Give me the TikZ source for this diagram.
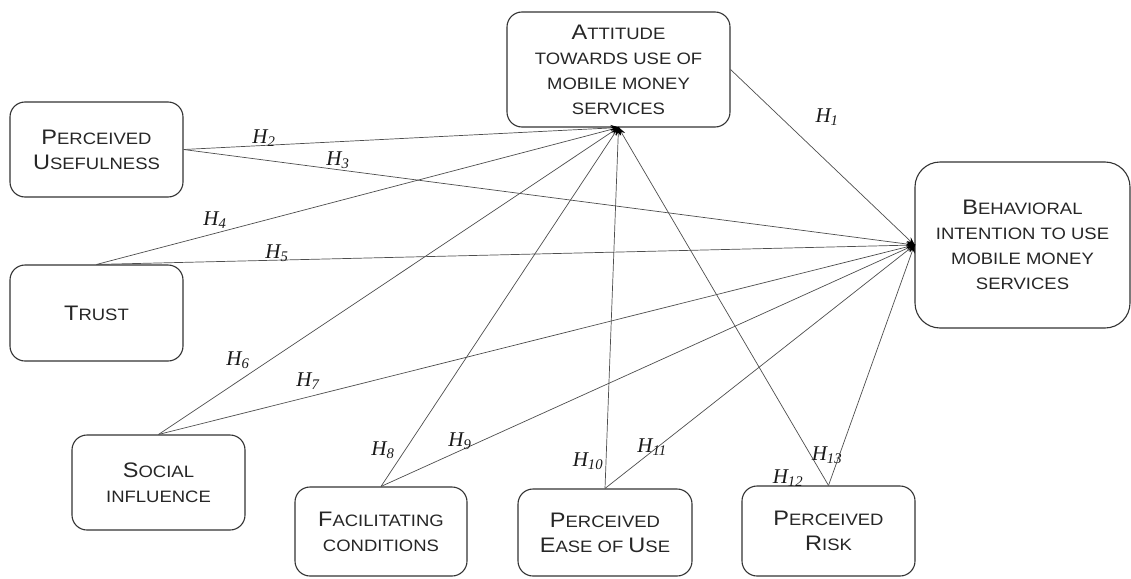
\documentclass[tikz,border=0pt]{standalone}
\usepackage{fontspec}
\setmainfont[FakeStretch=1.12]{Liberation Sans}
\newfontfamily\hfont{Liberation Serif}
\usetikzlibrary{arrows.meta}
\definecolor{boxline}{HTML}{333333}
\definecolor{conn}{HTML}{4d4d4d}
\newcommand\bc[1]{{\fontsize{21}{25}\selectfont #1}}
\newcommand\hl[1]{{\hfont\itshape H\textsubscript{#1}}}
\tikzset{
  box/.style={draw=boxline, line width=1.1pt, rounded corners=15pt, inner sep=0pt,
    align=center, text=black!85, font=\fontsize{16.5}{25}\selectfont},
  link/.style={draw=conn, line width=0.7pt, -{Stealth[length=9pt,width=6pt,black]}, shorten >=-1pt},
  hlab/.style={inner sep=0pt, font=\fontsize{21}{24}\selectfont, text=black!90}
}
\begin{document}
\begin{tikzpicture}[x=1pt,y=-1pt]
\useasboundingbox (0,0) rectangle (1131,578);
% boxes
\node[box, minimum width=223pt, minimum height=115pt] (att) at (618.5,69.5)
  {\bc{A}TTITUDE\\TOWARDS USE OF\\MOBILE MONEY\\SERVICES};
\node[box, minimum width=173pt, minimum height=95pt] (pu) at (96.5,149.5)
  {\bc{P}ERCEIVED\\\bc{U}SEFULNESS};
\node[box, minimum width=173pt, minimum height=96pt] (tr) at (96.5,313)
  {\bc{T}RUST};
\node[box, rounded corners=25pt, minimum width=215pt, minimum height=166pt] (bi) at (1022.5,245)
  {\bc{B}EHAVIORAL\\INTENTION TO USE\\MOBILE MONEY\\SERVICES};
\node[box, minimum width=173pt, minimum height=95pt] (si) at (158.5,482.5)
  {\bc{S}OCIAL\\INFLUENCE};
\node[box, minimum width=172pt, minimum height=89pt] (fc) at (381,531.5)
  {\bc{F}ACILITATING\\CONDITIONS};
\node[box, minimum width=174pt, minimum height=87pt] (peou) at (605,532.5)
  {\bc{P}ERCEIVED\\\bc{E}ASE OF \bc{U}SE};
\node[box, minimum width=173pt, minimum height=90pt] (pr) at (828.5,531)
  {\bc{P}ERCEIVED\\\bc{R}ISK};
% connectors to attitude
\draw[link] (pu.east) -- (att.south);
\draw[link] (tr.north) -- (att.south);
\draw[link] (si.north) -- (att.south);
\draw[link] (fc.north) -- (att.south);
\draw[link] (peou.north) -- (att.south);
\draw[link] (pr.north) -- (att.south);
% connectors to behavioral intention
\draw[link] (att.east) -- (bi.west);
\draw[link] (pu.east) -- (bi.west);
\draw[link] (tr.north) -- (bi.west);
\draw[link] (si.north) -- (bi.west);
\draw[link] (fc.north) -- (bi.west);
\draw[link] (peou.north) -- (bi.west);
\draw[link] (pr.north) -- (bi.west);
% labels
\node[hlab] (h1) at (827,117) {\hl{1}};
\node[hlab] (h2) at (264,138) {\hl{2}};
\node[hlab] (h3) at (338,160) {\hl{3}};
\node[hlab] (h4) at (215,220) {\hl{4}};
\node[hlab] (h5) at (277,253) {\hl{5}};
\node[hlab] (h6) at (238,360) {\hl{6}};
\node[hlab] (h7) at (308,381) {\hl{7}};
\node[hlab] (h8) at (383,450) {\hl{8}};
\node[hlab] (h9) at (460,441) {\hl{9}};
\node[hlab] (h10) at (588,461) {\hl{10}};
\node[hlab] (h11) at (652,447) {\hl{11}};
\node[hlab] (h12) at (788,478) {\hl{12}};
\node[hlab] (h13) at (827,455) {\hl{13}};
\end{tikzpicture}
\end{document}
